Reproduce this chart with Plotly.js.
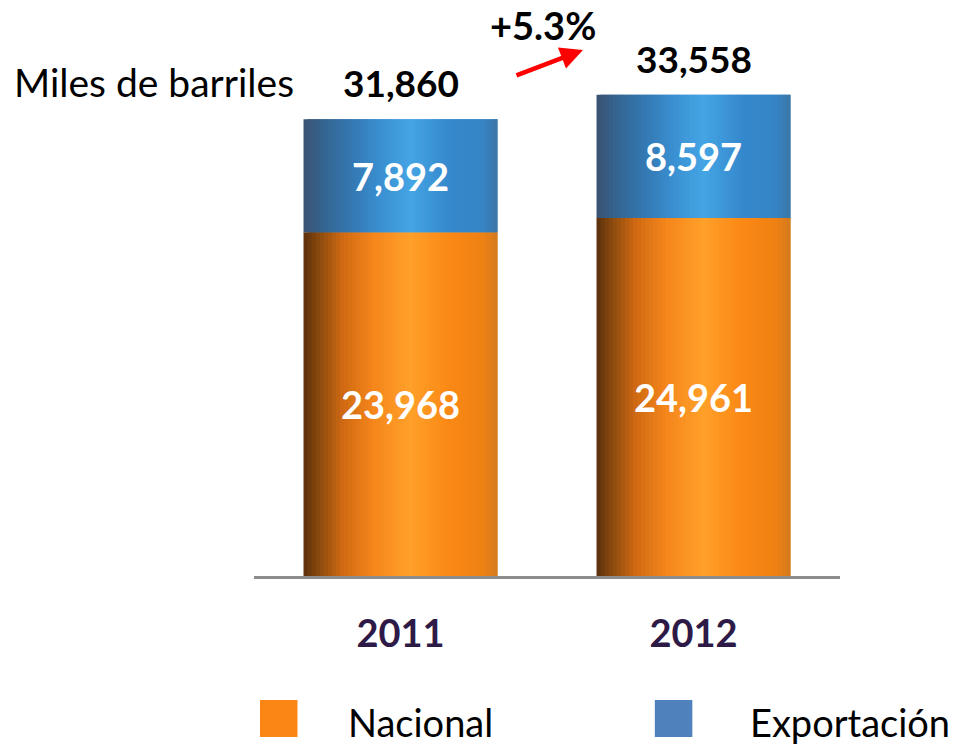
<!DOCTYPE html>
<html><head><meta charset="utf-8">
<script src="https://cdn.plot.ly/plotly-3.0.1.min.js"></script>
<style>html,body{margin:0;padding:0;background:#fff;}#chart{width:957px;height:745px;}</style>
</head><body><div id="chart"></div>
<script>
// ---- data ----
const years = ["2011", "2012"];
const nacional = [23968, 24961];
const exportacion = [7892, 8597];
const seriesNames = ["Nacional", "Exportación"];
const unitLabel = "Miles de barriles";

const totals = years.map((_, i) => nacional[i] + exportacion[i]);
const growth = (totals[1] / totals[0] - 1) * 100;
const fmt = v => v.toLocaleString("en-US");

// ---- styling ----
const FONT = "Lato, 'Open Sans', sans-serif";
const orangeStops = [[0,"#5b2f0c"],[0.08,"#8a4a0e"],[0.2,"#cf6912"],[0.36,"#f5861b"],[0.55,"#ffa029"],[0.75,"#fb8815"],[0.92,"#ef8213"],[1,"#d57a20"]];
const blueStops = [[0,"#3b5272"],[0.1,"#34648f"],[0.25,"#3478b3"],[0.4,"#3a90d2"],[0.55,"#45a5e4"],[0.75,"#3588cd"],[0.92,"#3585c6"],[1,"#3c76a6"]];
const legendColors = ["#fb8616", "#4f81bd"];

function hex2rgb(h){return [1,3,5].map(k=>parseInt(h.substr(k,2),16));}
function gradColor(stops,t){
  for(let k=0;k<stops.length-1;k++){
    const [p0,c0]=stops[k],[p1,c1]=stops[k+1];
    if(t>=p0&&t<=p1){
      const f=(t-p0)/(p1-p0),a=hex2rgb(c0),b=hex2rgb(c1);
      return "rgb("+a.map((v,j)=>Math.round(v+(b[j]-v)*f)).join(",")+")";
    }
  }
  return stops[stops.length-1][1];
}

const BAR_W = 0.662, N = 48, sw = BAR_W / N;
const traces = [];
function addSeries(values, base, stops){
  for(let s=0;s<N;s++){
    const t=(s+0.5)/N;
    const off = -BAR_W/2 + s*sw;
    traces.push({
      type:"bar", x:years, y:values, base:base,
      width: Math.min(sw*2, BAR_W/2 - off), offset: off,
      marker:{color:gradColor(stops,t), line:{width:0}},
      showlegend:false, hoverinfo:"skip"
    });
  }
}
addSeries(nacional, years.map(()=>0), orangeStops);
addSeries(exportacion, nacional, blueStops);

const annotations = [];
years.forEach((yr,i)=>{
  annotations.push({x:i, y:nacional[i]/2, xref:"x", yref:"y", text:"<b>"+fmt(nacional[i])+"</b>", showarrow:false, font:{family:FONT,size:38,color:"#ffffff"}});
  annotations.push({x:i, y:nacional[i]+exportacion[i]/2, xref:"x", yref:"y", text:"<b>"+fmt(exportacion[i])+"</b>", showarrow:false, font:{family:FONT,size:38,color:"#ffffff"}});
  annotations.push({x:i, y:totals[i], xref:"x", yref:"y", yanchor:"bottom", yshift:12, text:"<b>"+fmt(totals[i])+"</b>", showarrow:false, font:{family:FONT,size:37,color:"#000000"}});
});
annotations.push({x:-0.413, y:0.9216, xref:"paper", yref:"paper", xanchor:"left", yanchor:"middle", text:unitLabel, showarrow:false, font:{family:FONT,size:39,color:"#000"}});
annotations.push({x:0.4932, y:1.028, xref:"paper", yref:"paper", xanchor:"center", yanchor:"middle", text:"<b>+"+growth.toFixed(1)+"%</b>", showarrow:false, font:{family:FONT,size:38,color:"#000"}});
annotations.push({x:0.5614, y:0.9813, xref:"paper", yref:"paper", text:"", showarrow:true, ax:-68, ay:26, arrowcolor:"#ff0000", arrowwidth:4.5, arrowhead:2, arrowsize:1});
// legend
const legX = [0.0102, 0.684], legTX = [0.1587, 0.8447];
const shapes = [];
seriesNames.forEach((nm,k)=>{
  shapes.push({type:"rect", xref:"paper", yref:"paper", x0:legX[k], x1:legX[k]+0.064, y0:-0.3004, y1:-0.2313, fillcolor:legendColors[k], line:{width:0}});
  annotations.push({x:legTX[k], y:-0.2724, xref:"paper", yref:"paper", xanchor:"left", yanchor:"middle", borderpad:0, text:nm, showarrow:false, font:{family:FONT,size:38,color:"#000"}});
});

const layout = {
  width:957, height:745,
  margin:{l:254, r:117, t:40, b:169},
  paper_bgcolor:"#fff", plot_bgcolor:"#fff",
  barmode:"overlay", showlegend:false,
  xaxis:{type:"category", range:[-0.5,1.5], showline:true, linecolor:"#8c8c8c", linewidth:3, showgrid:false, zeroline:false, ticks:"", ticklabelstandoff:22, tickfont:{family:FONT,size:38,color:"#2e1a47",weight:"bold"}},
  yaxis:{range:[0,37380], visible:false, showgrid:false, zeroline:false},
  annotations:annotations, shapes:shapes
};
Plotly.newPlot("chart", traces, layout, {staticPlot:true, displayModeBar:false});
</script></body></html>
